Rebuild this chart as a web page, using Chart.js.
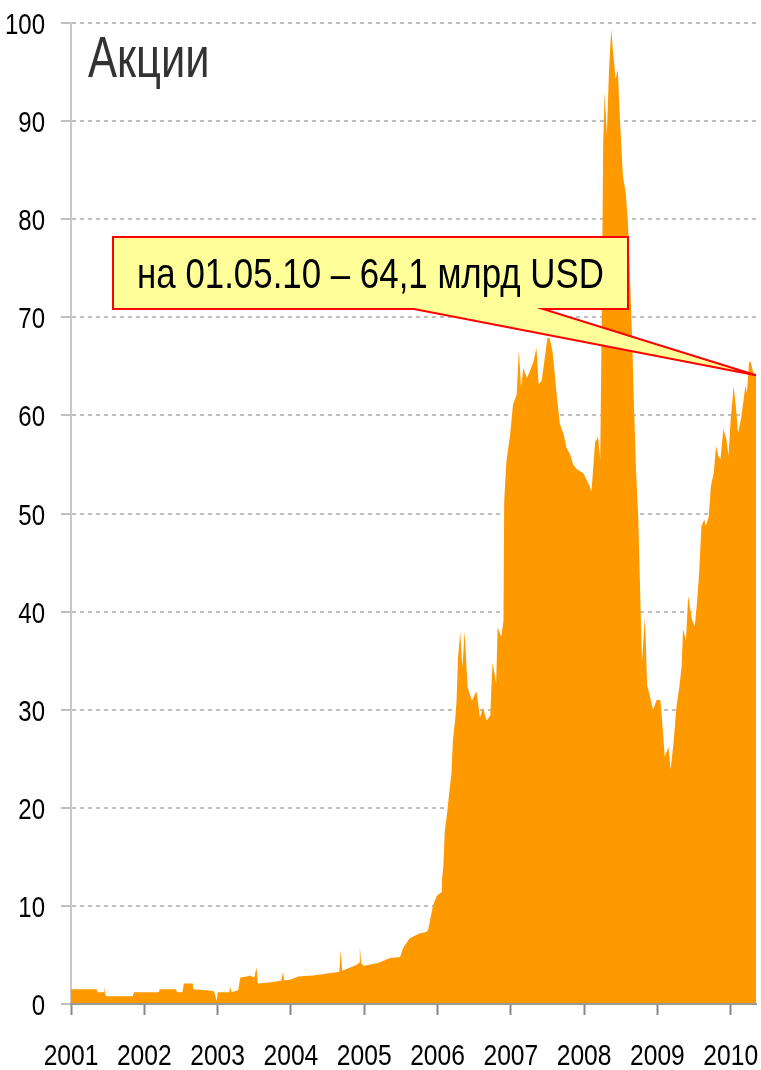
<!DOCTYPE html>
<html>
<head>
<meta charset="utf-8">
<script src="https://cdn.jsdelivr.net/npm/chart.js@4/dist/chart.umd.min.js"></script>
<style>
body{margin:0;background:#fff;}
canvas{display:block;}
</style>
</head>
<body>
<canvas id="c" width="761" height="1070"></canvas>
<script>
// chart texts
var chartTitle = 'Акции';
var calloutText = 'на 01.05.10 – 64,1 млрд USD';

// tick labels
var yearTicks = [2001, 2002, 2003, 2004, 2005, 2006, 2007, 2008, 2009, 2010];
var valueTicks = [0, 10, 20, 30, 40, 50, 60, 70, 80, 90, 100];

// series (year as decimal, value in bln USD)
var dates = [
  2001.00, 2001.35, 2001.36, 2001.44, 2001.45, 2001.46, 2001.48, 2001.84, 2001.86, 2002.20,
  2002.21, 2002.43, 2002.45, 2002.52, 2002.54, 2002.66, 2002.67, 2002.85, 2002.95, 2002.99,
  2003.00, 2003.16, 2003.17, 2003.19, 2003.28, 2003.31, 2003.40, 2003.44, 2003.50, 2003.53,
  2003.55, 2003.70, 2003.80, 2003.87, 2003.89, 2003.91, 2004.00, 2004.10, 2004.30, 2004.50,
  2004.66, 2004.68, 2004.70, 2004.80, 2004.90, 2004.93, 2004.94, 2004.96, 2005.00, 2005.20,
  2005.35, 2005.49, 2005.53, 2005.62, 2005.76, 2005.83, 2005.87, 2005.90, 2005.94, 2005.99,
  2006.05, 2006.06, 2006.08, 2006.10, 2006.13, 2006.16, 2006.19, 2006.21, 2006.24, 2006.26,
  2006.28, 2006.31, 2006.34, 2006.37, 2006.41, 2006.47, 2006.53, 2006.58, 2006.62, 2006.67,
  2006.72, 2006.75, 2006.80, 2006.82, 2006.87, 2006.90, 2006.91, 2006.94, 2006.99, 2007.03,
  2007.08, 2007.11, 2007.14, 2007.17, 2007.22, 2007.26, 2007.31, 2007.35, 2007.38, 2007.42,
  2007.47, 2007.50, 2007.53, 2007.57, 2007.60, 2007.63, 2007.67, 2007.72, 2007.76, 2007.81,
  2007.85, 2007.90, 2007.99, 2008.08, 2008.10, 2008.15, 2008.19, 2008.22, 2008.24, 2008.26,
  2008.28, 2008.31, 2008.34, 2008.37, 2008.39, 2008.43, 2008.46, 2008.49, 2008.53, 2008.57,
  2008.60, 2008.63, 2008.66, 2008.68, 2008.71, 2008.74, 2008.77, 2008.79, 2008.83, 2008.86,
  2008.90, 2008.94, 2008.99, 2009.04, 2009.06, 2009.10, 2009.15, 2009.18, 2009.22, 2009.26,
  2009.30, 2009.33, 2009.35, 2009.39, 2009.42, 2009.47, 2009.51, 2009.54, 2009.57, 2009.60,
  2009.64, 2009.66, 2009.70, 2009.73, 2009.77, 2009.80, 2009.83, 2009.86, 2009.90, 2009.94,
  2009.97, 2010.00, 2010.04, 2010.07, 2010.10, 2010.14, 2010.17, 2010.20, 2010.22, 2010.25,
  2010.27, 2010.31, 2010.345
];
var values = [
  1.5, 1.5, 1.2, 1.2, 1.8, 1.2, 0.8, 0.8, 1.2, 1.2,
  1.5, 1.5, 1.2, 1.2, 2.1, 2.1, 1.5, 1.4, 1.3, 0.3,
  1.2, 1.2, 1.8, 1.2, 1.4, 2.7, 2.8, 2.9, 2.7, 3.7,
  2.1, 2.2, 2.3, 2.4, 3.2, 2.4, 2.5, 2.8, 2.9, 3.1,
  3.3, 5.5, 3.4, 3.7, 4.0, 4.2, 5.8, 4.1, 3.9, 4.2,
  4.7, 4.8, 5.7, 6.7, 7.2, 7.3, 7.5, 8.6, 10.1, 11.0,
  11.4, 12.6, 14.1, 17.7, 19.4, 21.5, 23.5, 26.9, 28.9, 30.9,
  35.3, 37.9, 34.3, 38.0, 32.3, 30.9, 31.9, 29.2, 30.2, 28.9,
  29.4, 34.8, 32.7, 38.4, 37.4, 39.1, 51.3, 55.3, 58.0, 61.1,
  62.1, 66.7, 62.8, 64.8, 63.8, 64.5, 65.5, 66.9, 63.2, 63.5,
  66.2, 67.9, 67.9, 66.5, 64.2, 61.8, 59.1, 58.1, 56.7, 56.0,
  55.0, 54.5, 54.1, 52.7, 52.2, 57.3, 57.8, 55.5, 69.5, 87.7,
  92.9, 88.6, 95.2, 99.4, 97.5, 94.3, 95.2, 90.0, 84.4, 82.6,
  79.3, 73.2, 66.7, 61.1, 54.1, 49.4, 40.5, 34.9, 39.5, 32.5,
  31.3, 30.0, 31.0, 31.0, 29.3, 25.2, 26.2, 23.9, 26.6, 30.3,
  32.4, 34.4, 38.2, 37.1, 41.6, 39.2, 38.5, 40.9, 44.0, 48.7,
  49.4, 48.7, 49.7, 52.8, 54.2, 56.9, 55.9, 55.5, 58.6, 57.6,
  55.9, 59.6, 63.0, 60.9, 58.2, 59.6, 61.3, 63.0, 62.3, 65.4,
  65.5, 64.3, 64.1
];

var fontFamily = "'Liberation Sans', Arial, sans-serif";

var points = [];
for (var i = 0; i < dates.length; i++) {
  points.push({x: dates[i], y: values[i]});
}

// no narrow font installed, so squeeze regular text sideways
function drawNarrow(ctx, text, x, y, align, size, color, squeeze) {
  ctx.save();
  ctx.translate(x, y);
  ctx.scale(squeeze, 1);
  ctx.font = size + 'px ' + fontFamily;
  ctx.fillStyle = color;
  ctx.textAlign = align;
  ctx.textBaseline = 'alphabetic';
  ctx.fillText(text, 0, 0);
  ctx.restore();
}

// tick labels and title, placed from the chart scales
var labelsPlugin = {
  id: 'narrowLabels',
  afterDraw: function(chart) {
    var ctx = chart.ctx;
    var xs = chart.scales.x;
    var ys = chart.scales.y;
    xs.ticks.forEach(function(t) {
      drawNarrow(ctx, String(t.value), xs.getPixelForValue(t.value), 1065, 'center', 30, '#000000', 0.82);
    });
    ys.ticks.forEach(function(t) {
      drawNarrow(ctx, String(t.value), 45, ys.getPixelForValue(t.value) + 11, 'right', 30, '#000000', 0.8);
    });
    drawNarrow(ctx, chartTitle, 88, 77, 'left', 58, '#333333', 0.75);
  }
};

// yellow box with a pointer to the last value
var calloutPlugin = {
  id: 'callout',
  afterDatasetsDraw: function(chart) {
    var ctx = chart.ctx;
    var meta = chart.getDatasetMeta(0);
    var last = meta.data[meta.data.length - 1];
    var left = 113, top = 237, right = 628, bottom = 309;
    ctx.save();
    ctx.beginPath();
    ctx.moveTo(left, top);
    ctx.lineTo(right, top);
    ctx.lineTo(right, bottom);
    ctx.lineTo(543, bottom);
    ctx.lineTo(last.x, last.y);
    ctx.lineTo(414, bottom);
    ctx.lineTo(left, bottom);
    ctx.closePath();
    ctx.fillStyle = '#ffff99';
    ctx.fill();
    ctx.lineWidth = 2;
    ctx.strokeStyle = '#ff0000';
    ctx.stroke();
    ctx.restore();
    drawNarrow(ctx, calloutText, (left + right) / 2, 288, 'center', 42, '#000000', 0.83);
  }
};

var chart = new Chart(document.getElementById('c'), {
  type: 'line',
  data: {
    datasets: [{
      data: points,
      fill: 'origin',
      backgroundColor: '#ff9900',
      borderWidth: 0,
      pointRadius: 0,
      tension: 0
    }]
  },
  options: {
    responsive: false,
    animation: false,
    devicePixelRatio: 1,
    layout: {padding: {top: 23, right: 5, left: 0, bottom: 0}},
    plugins: {legend: {display: false}, tooltip: {enabled: false}},
    scales: {
      x: {
        type: 'linear',
        min: 2001,
        max: 2010.345,
        afterBuildTicks: function(scale) {
          scale.ticks = yearTicks.map(function(v) { return {value: v}; });
        },
        afterFit: function(scale) { scale.height = 66; },
        ticks: {display: false},
        grid: {drawOnChartArea: false, drawTicks: true, tickLength: 11, tickColor: '#888888', tickWidth: 2},
        border: {display: true, color: '#999999', width: 2, z: 1}
      },
      y: {
        min: 0,
        max: 100,
        afterBuildTicks: function(scale) {
          scale.ticks = valueTicks.map(function(v) { return {value: v}; });
        },
        afterFit: function(scale) { scale.width = 71; },
        ticks: {display: false},
        grid: {color: '#bfbfbf', lineWidth: 2, tickLength: 10, tickColor: '#bfbfbf', tickWidth: 2},
        border: {display: true, color: '#c8c8c8', width: 2, dash: [4, 4]}
      }
    }
  },
  plugins: [labelsPlugin, calloutPlugin]
});
</script>
</body>
</html>
